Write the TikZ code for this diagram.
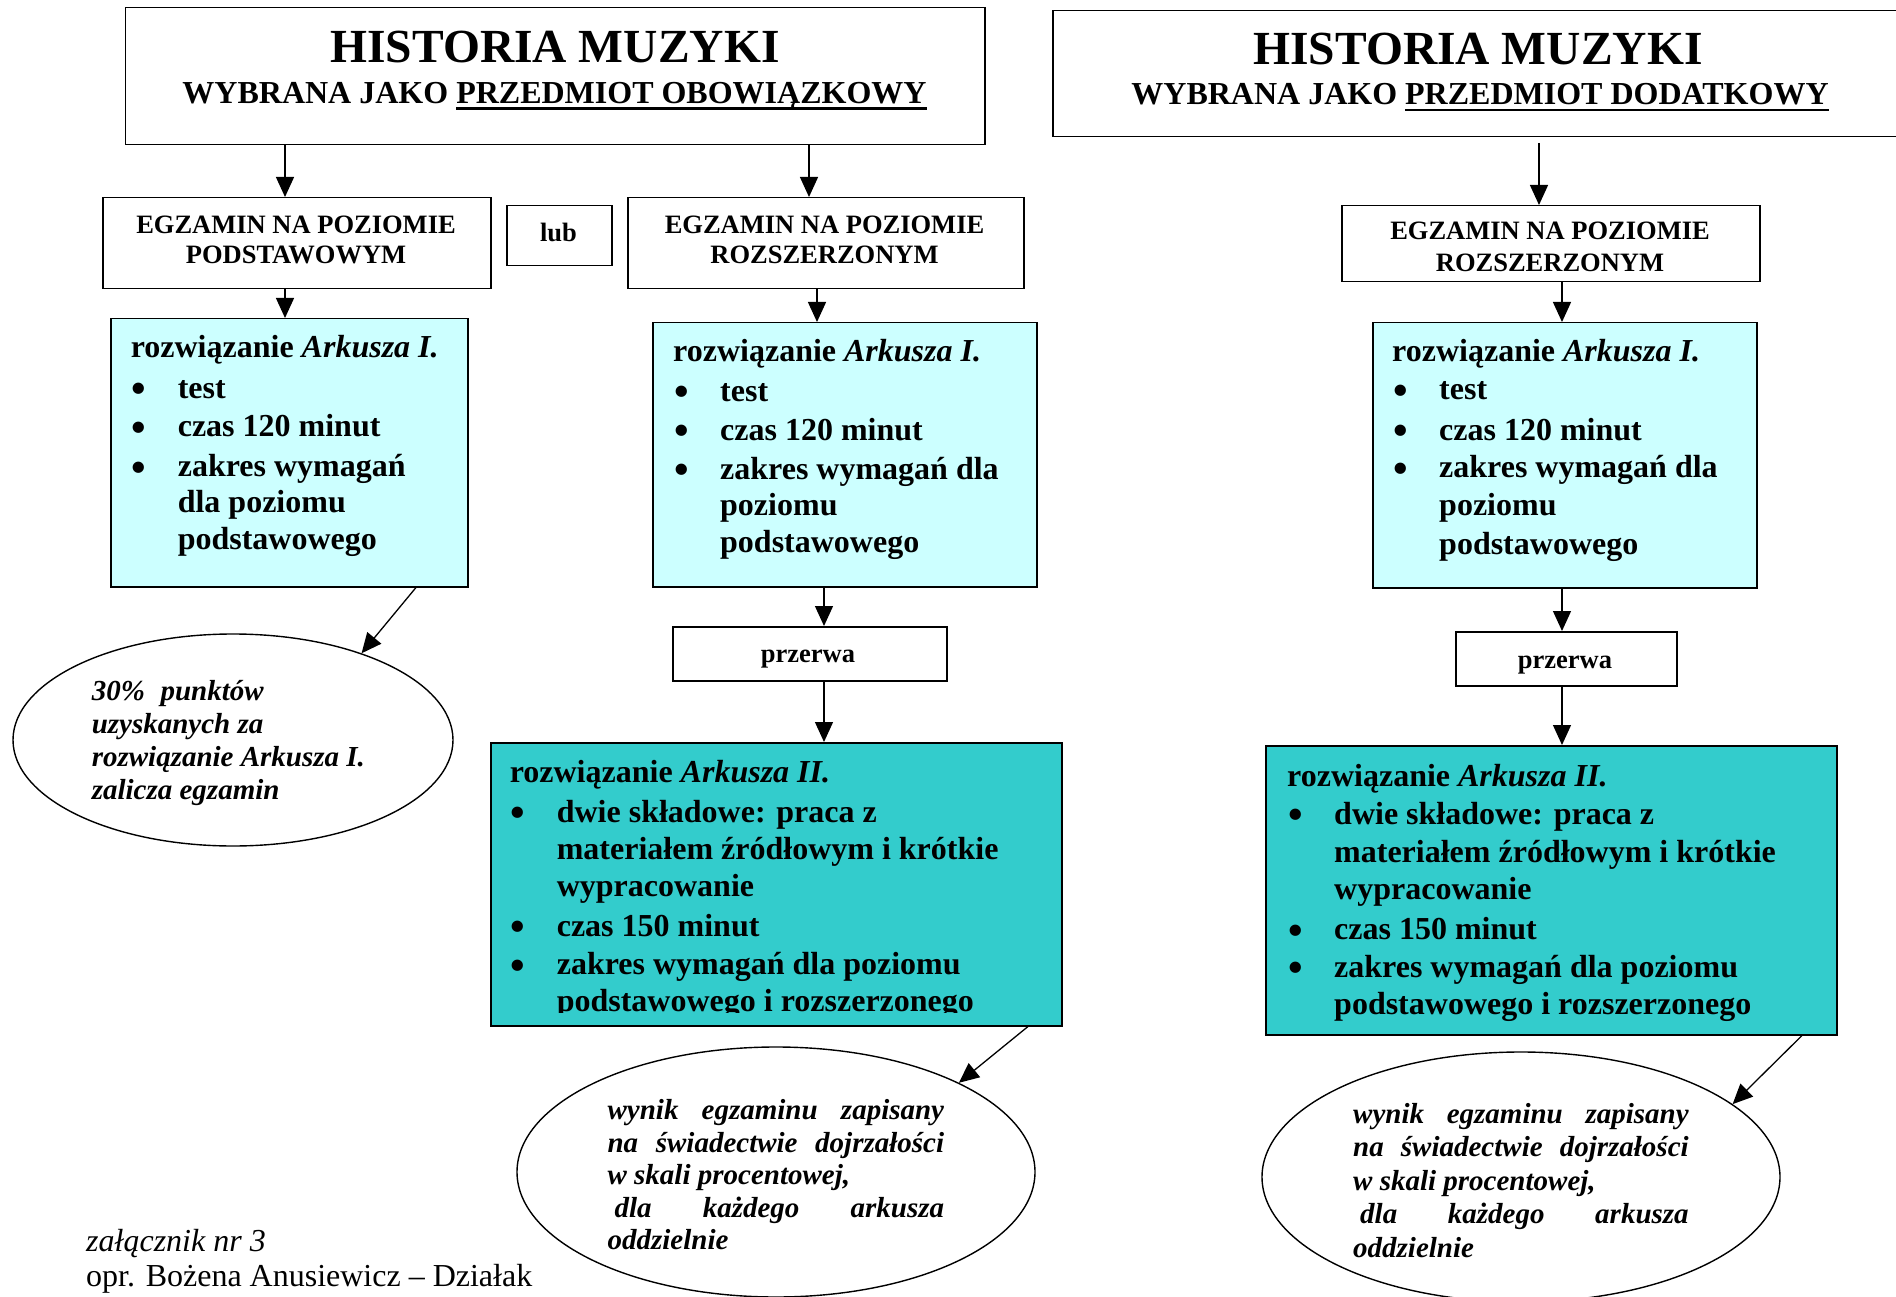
\documentclass[tikz,border=0pt]{standalone}
\usepackage{graphicx}
\usepackage{fontspec}
\setmainfont{Liberation Serif}
\usetikzlibrary{arrows.meta,shapes.geometric}
\definecolor{lcyan}{HTML}{CCFFFF}
\definecolor{tealbox}{HTML}{33CCCC}
\newcommand\myul[1]{\setbox0\hbox{#1}\rlap{\rule[-6.5pt]{\wd0}{2.5pt}}\box0}
\newcommand\mybul{\raisebox{-4.6pt}{\scalebox{1.3}{\textbullet}}}
\newcommand\itm[1]{\makebox[47pt][l]{\hspace{1pt}\mybul}#1}
\newcommand\cnt[1]{\hspace*{47pt}#1}
\renewcommand\arraystretch{1}
\begin{document}
\begin{tikzpicture}[x=1pt,y=-1pt,
 box/.style={draw, rectangle, line width=1.5pt, inner sep=0pt, anchor=north west},
 ell/.style={draw, ellipse, line width=1.4pt, inner sep=0pt, fill=white},
 arr/.style={-{Triangle[length=20pt,width=18pt]}, line width=1.3pt},
 txt/.style={inner sep=0pt, anchor=base west},
 ctr/.style={inner sep=0pt, anchor=base}]
\useasboundingbox (0,0) rectangle (1896,1297);
\fill[white] (0,0) rectangle (1896,1297);
% boxes
\node[box, minimum width=859.5pt, minimum height=137pt] (t1) at (124.5,7) {};
\node[box, minimum width=910pt, minimum height=126pt] (t2) at (1052,10) {};
\node[box, minimum width=388pt, minimum height=91pt] (e1) at (102,197) {};
\node[box, minimum width=105pt, minimum height=60pt] (lub) at (506,205) {};
\node[box, minimum width=396pt, minimum height=91pt] (e2) at (627,197) {};
\node[box, minimum width=418pt, minimum height=76pt] (e3) at (1341,205) {};
\node[box, fill=lcyan, minimum width=357pt, minimum height=268pt] (c1) at (110,318) {};
\node[box, fill=lcyan, minimum width=384pt, minimum height=264pt] (c2) at (652,322) {};
\node[box, fill=lcyan, minimum width=384pt, minimum height=265pt] (c3) at (1372,322) {};
\node[box, minimum width=274pt, minimum height=54pt] (p2) at (672,626) {};
\node[box, minimum width=221pt, minimum height=54pt] (p3) at (1455,631) {};
\node[box, fill=tealbox, minimum width=571pt, minimum height=283pt] (d2) at (490,742) {};
\node[box, fill=tealbox, minimum width=571pt, minimum height=289pt] (d3) at (1265,745) {};
\node[ell, minimum width=440pt, minimum height=212pt] (el1) at (233,740) {};
\node[ell, minimum width=518pt, minimum height=250pt] (el2) at (776,1172) {};
\node[ell, minimum width=518pt, minimum height=250pt] (el3) at (1521,1177) {};
% titles
\node[ctr] (tt1) at (555,63) {\fontsize{47.5}{52}\selectfont\bfseries HISTORIA MUZYKI};
\node[ctr] (ts1) at (554.5,103.5) {\fontsize{32}{36}\selectfont\bfseries WYBRANA JAKO \myul{PRZEDMIOT OBOWIĄZKOWY}};
\node[ctr] (tt2) at (1478,65) {\fontsize{47.5}{52}\selectfont\bfseries HISTORIA MUZYKI};
\node[ctr] (ts2) at (1480,105) {\fontsize{32}{36}\selectfont\bfseries WYBRANA JAKO \myul{PRZEDMIOT DODATKOWY}};
% level 2
\node[ctr] (te1) at (296,233.5) {\fontsize{26.5}{30.5}\selectfont\bfseries\begin{tabular}[t]{@{}c@{}}EGZAMIN NA POZIOMIE\\PODSTAWOWYM\end{tabular}};
\node[ctr] (tl) at (558.5,242) {\fontsize{26.5}{30}\selectfont\bfseries lub};
\node[ctr] (te2) at (824.5,233.5) {\fontsize{26.5}{30.5}\selectfont\bfseries\begin{tabular}[t]{@{}c@{}}EGZAMIN NA POZIOMIE\\ROZSZERZONYM\end{tabular}};
\node[ctr] (te3) at (1550,240) {\fontsize{26.5}{31.4}\selectfont\bfseries\begin{tabular}[t]{@{}c@{}}EGZAMIN NA POZIOMIE\\ROZSZERZONYM\end{tabular}};
% cyan texts
\node[txt] (tc1) at (130.6,358) {\fontsize{32}{36.5}\selectfont\bfseries\begin{tabular}[t]{@{}l@{}}
rozwiązanie \textit{Arkusza I.}\\[3.5pt]
\itm{test}\\[2.5pt]
\itm{czas 120 minut}\\[3pt]
\itm{zakres wymagań}\\
\cnt{dla poziomu}\\
\cnt{podstawowego}
\end{tabular}};
\node[txt] (tc2) at (673,361.6) {\fontsize{32}{36.5}\selectfont\bfseries\begin{tabular}[t]{@{}l@{}}
rozwiązanie \textit{Arkusza I.}\\[3pt]
\itm{test}\\[2.5pt]
\itm{czas 120 minut}\\[2.5pt]
\itm{zakres wymagań dla}\\
\cnt{poziomu}\\
\cnt{podstawowego}
\end{tabular}};
\node[txt] (tc3) at (1392,361) {\fontsize{32}{37}\selectfont\bfseries\begin{tabular}[t]{@{}l@{}}
rozwiązanie \textit{Arkusza I.}\\[2pt]
\itm{test}\\[3pt]
\itm{czas 120 minut}\\[0.5pt]
\itm{zakres wymagań dla}\\[1.5pt]
\cnt{poziomu}\\[2pt]
\cnt{podstawowego}
\end{tabular}};
% dark texts
\begin{scope}
\clip (490,742) rectangle (1061,1012.5);
\node[txt] (td2) at (509.6,782.6) {\fontsize{32}{37}\selectfont\bfseries\begin{tabular}[t]{@{}l@{}}
rozwiązanie \textit{Arkusza II.}\\[2.4pt]
\itm{dwie składowe: praca z}\\
\cnt{materiałem źródłowym i krótkie}\\
\cnt{wypracowanie}\\[3.2pt]
\itm{czas 150 minut}\\[1.3pt]
\itm{zakres wymagań dla poziomu}\\
\cnt{podstawowego i rozszerzonego}
\end{tabular}};
\end{scope}
\node[txt] (td3) at (1287,786) {\fontsize{32}{37.5}\selectfont\bfseries\begin{tabular}[t]{@{}l@{}}
rozwiązanie \textit{Arkusza II.}\\[0.5pt]
\itm{dwie składowe: praca z}\\[0.5pt]
\cnt{materiałem źródłowym i krótkie}\\
\cnt{wypracowanie}\\[2.5pt]
\itm{czas 150 minut}\\
\itm{zakres wymagań dla poziomu}\\
\cnt{podstawowego i rozszerzonego}
\end{tabular}};
% przerwa
\node[ctr] (tp2) at (808,662) {\fontsize{26.5}{30}\selectfont\bfseries przerwa};
\node[ctr] (tp3) at (1565,668) {\fontsize{26.5}{30}\selectfont\bfseries przerwa};
% ellipse texts
\node[txt] (tel1) at (91.6,700) {\fontsize{29}{33.3}\selectfont\bfseries\itshape\begin{tabular}[t]{@{}l@{}}
\makebox[172pt][s]{30\% punktów}\\
uzyskanych za\\
rozwiązanie Arkusza I.\\
zalicza egzamin
\end{tabular}};
\node[txt] (tel2) at (607.4,1119.5) {\fontsize{29}{32.6}\selectfont\bfseries\itshape\begin{tabular}[t]{@{}l@{}}
\makebox[336.5pt][s]{wynik egzaminu zapisany}\\
\makebox[336.5pt][s]{na świadectwie dojrzałości}\\
w skali procentowej,\\
\hspace*{7pt}\makebox[329.5pt][s]{dla każdego arkusza}\\
oddzielnie
\end{tabular}};
\node[txt] (tel3) at (1353,1123) {\fontsize{29}{33.5}\selectfont\bfseries\itshape\begin{tabular}[t]{@{}l@{}}
\makebox[335.5pt][s]{wynik egzaminu zapisany}\\
\makebox[335.5pt][s]{na świadectwie dojrzałości}\\
w skali procentowej,\\
\hspace*{7pt}\makebox[328.5pt][s]{dla każdego arkusza}\\
oddzielnie
\end{tabular}};
% footer
\node[txt] (f1) at (86,1251) {\fontsize{32}{36}\selectfont\itshape załącznik nr 3};
\node[txt] (f2) at (86,1286.5) {\fontsize{32}{36}\selectfont opr. Bożena Anusiewicz – Działak};
% arrows
\coordinate (xA) at (285,0);
\coordinate (xB) at (809,0);
\coordinate (xC) at (817,0);
\coordinate (xD) at (824,0);
\coordinate (xE) at (1562,0);
\coordinate (xF) at (416,0);
\coordinate (xG) at (1028,0);
\coordinate (xH) at (1802,0);
\coordinate (s9) at (1539,143);
\draw[arr] (xA |- t1.south) -- (xA |- e1.north);
\draw[arr] (xB |- t1.south) -- (xB |- e2.north);
\draw[arr] (xA |- e1.south) -- (xA |- c1.north);
\draw[arr] (xC |- e2.south) -- (xC |- c2.north);
\draw[arr] (xD |- c2.south) -- (xD |- p2.north);
\draw[arr] (xD |- p2.south) -- (xD |- d2.north);
\draw[arr] (xF |- c1.south) -- (el1.34);
\draw[arr] (xG |- d2.south) -- (el2.26);
\draw[arr] (s9) -- (s9 |- e3.north);
\draw[arr] (xE |- e3.south) -- (xE |- c3.north);
\draw[arr] (xE |- c3.south) -- (xE |- p3.north);
\draw[arr] (xE |- p3.south) -- (xE |- d3.north);
\draw[arr] (xH |- d3.south) -- (el3.19);
\end{tikzpicture}
\end{document}
